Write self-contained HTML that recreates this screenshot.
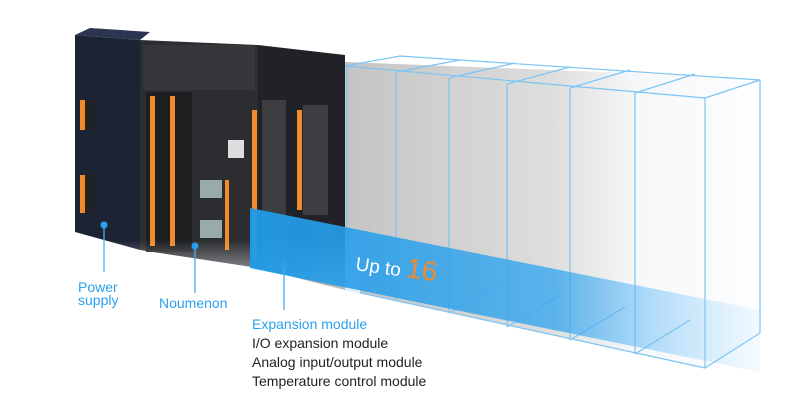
<!DOCTYPE html>
<html><head><meta charset="utf-8"><style>
html,body{margin:0;padding:0;background:#fff;width:800px;height:412px;overflow:hidden}
svg{display:block}
text{font-family:"Liberation Sans",sans-serif}
</style></head><body>
<svg width="800" height="412" viewBox="0 0 800 412" xmlns="http://www.w3.org/2000/svg">
<defs>
<linearGradient id="band" x1="0" x2="1" y1="0" y2="0">
<stop offset="0" stop-color="#1f9be8" stop-opacity="0.95"/>
<stop offset="0.6" stop-color="#3aa8ee" stop-opacity="0.8"/>
<stop offset="1" stop-color="#8fd0ff" stop-opacity="0.1"/>
</linearGradient>
<linearGradient id="fade" x1="0" x2="0" y1="0" y2="1">
<stop offset="0" stop-color="#fff" stop-opacity="0"/>
<stop offset="1" stop-color="#fff" stop-opacity="1"/>
</linearGradient>
<linearGradient id="ghost" x1="0" x2="1" y1="0" y2="0">
<stop offset="0" stop-color="#c4c4c4"/>
<stop offset="0.5" stop-color="#dedede"/>
<stop offset="0.7" stop-color="#f6f7f9"/>
<stop offset="1" stop-color="#fdfeff"/>
</linearGradient>
</defs>
<!-- ghost modules -->
<polygon points="345,62 760,78 760,333 705,368 345,290" fill="url(#ghost)"/>
<g stroke="#7cc4f5" stroke-width="1.2" fill="none">
<polyline points="347,66 347,290"/><polyline points="396,72 396,300"/><polyline points="449,78 449,313"/>
<polyline points="507,84 507,327"/><polyline points="570,88 570,340"/><polyline points="635,93 635,354"/>
<polyline points="705,98 705,368"/><polyline points="760,80 760,333"/>
<polyline points="345,66 400,56 760,80 705,98 345,66"/>
<line x1="396" y1="72" x2="460" y2="60"/><line x1="449" y1="78" x2="515" y2="63"/>
<line x1="507" y1="84" x2="570" y2="67"/><line x1="570" y1="88" x2="630" y2="70"/><line x1="635" y1="93" x2="695" y2="74"/>
<line x1="347" y1="290" x2="705" y2="368"/><line x1="705" y1="368" x2="760" y2="333"/>
<line x1="570" y1="340" x2="625" y2="307"/><line x1="635" y1="354" x2="690" y2="320"/>
<line x1="507" y1="327" x2="562" y2="294"/><line x1="449" y1="313" x2="504" y2="282"/>
</g>
<!-- power supply -->
<polygon points="75,35 140,40 140,250 75,232" fill="#1c2333"/>
<polygon points="75,35 90,28 150,32 140,40" fill="#2b3550"/>
<!-- main unit -->
<polygon points="140,40 258,45 258,268 140,250" fill="#2b2d31"/>
<rect x="143" y="45" width="112" height="45" fill="#35373b"/>
<rect x="146" y="92" width="46" height="160" fill="#1d1e20"/>
<g fill="#f08a2c"><rect x="150" y="96" width="5" height="150"/><rect x="170" y="96" width="5" height="150"/></g>
<rect x="200" y="180" width="22" height="18" fill="#9aa" /><rect x="200" y="220" width="22" height="18" fill="#9aa"/>
<rect x="228" y="140" width="16" height="18" fill="#ddd"/>
<rect x="80" y="100" width="14" height="30" fill="#222"/><rect x="80" y="100" width="5" height="30" fill="#f08a2c"/>
<rect x="80" y="175" width="14" height="38" fill="#222"/><rect x="80" y="175" width="5" height="38" fill="#f08a2c"/>
<!-- expansion modules -->
<polygon points="258,45 345,55 345,290 258,268" fill="#202227"/>
<g fill="#f08a2c"><rect x="252" y="110" width="5" height="150"/><rect x="297" y="110" width="5" height="100"/><rect x="225" y="180" width="4" height="70"/></g>
<rect x="262" y="100" width="24" height="165" fill="#3c3e42"/><rect x="303" y="105" width="25" height="110" fill="#3c3e42"/>
<rect x="0" y="240" width="360" height="70" fill="url(#fade)"/>
<!-- band -->
<polygon points="250,208 760,310 760,372 250,268" fill="url(#band)"/>
<text x="355" y="270" font-size="19" fill="#fff" transform="rotate(8 355 270)">Up to <tspan font-size="28" fill="#f08a2c">16</tspan></text>
<!-- leaders -->
<g stroke="#4aaaf0" stroke-width="1.3">
<line x1="104" y1="225" x2="104" y2="272"/><line x1="195" y1="246" x2="195" y2="293"/><line x1="284" y1="264" x2="284" y2="310"/>
</g>
<g fill="#2a9ff0"><circle cx="104" cy="225" r="3.5"/><circle cx="195" cy="246" r="3.5"/><circle cx="284" cy="264" r="3.5"/></g>
<g font-size="14" fill="#2aa0ee">
<text x="78" y="292">Power</text><text x="78" y="305">supply</text>
<text x="159" y="308">Noumenon</text>
<text x="252" y="329">Expansion module</text>
</g>
<g font-size="14" fill="#222">
<text x="252" y="348">I/O expansion module</text>
<text x="252" y="367">Analog input/output module</text>
<text x="252" y="386">Temperature control module</text>
</g>
</svg>
</body></html>
